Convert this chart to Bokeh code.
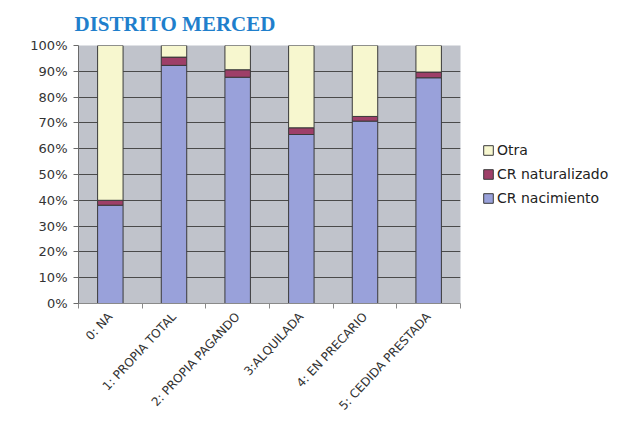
from bokeh.plotting import figure
from bokeh.models import (ColumnDataSource, FixedTicker, NumeralTickFormatter,
                          Legend, LegendItem)
from bokeh.embed import file_html
from bokeh.resources import INLINE

categories = ["0: NA", "1: PROPIA TOTAL", "2: PROPIA PAGANDO", "3:ALQUILADA",
              "4: EN PRECARIO", "5: CEDIDA PRESTADA"]
cr_nacimiento = [0.381, 0.923, 0.877, 0.655, 0.707, 0.875]
cr_naturalizado = [0.019, 0.032, 0.029, 0.026, 0.018, 0.022]
otra = [round(1 - a - b, 3) for a, b in zip(cr_nacimiento, cr_naturalizado)]
series = ["cr_nacimiento", "cr_naturalizado", "otra"]
series_labels = ["CR nacimiento", "CR naturalizado", "Otra"]
colors = ["#99A1DA", "#9E3F68", "#F7F7CF"]
y_ticks = [i / 10 for i in range(11)]

x_pos = [i + 0.5 for i in range(len(categories))]
source = ColumnDataSource(dict(x=x_pos, cr_nacimiento=cr_nacimiento,
                               cr_naturalizado=cr_naturalizado, otra=otra))

p = figure(frame_width=382, frame_height=258, output_backend="svg", toolbar_location=None,
           x_range=(0, len(categories)), y_range=(0, 1),
           min_border_left=78, min_border_right=150, min_border_top=45,
           min_border_bottom=110)

p.title.text = "DISTRITO MERCED"
p.title.text_font = "Liberation Serif"
p.title.text_font_size = "21px"
p.title.text_font_style = "bold"
p.title.text_color = "#1F7FCC"
p.title.offset = -4
p.title.standoff = 19

p.background_fill_color = "#C0C3CB"
p.border_fill_color = "white"
p.outline_line_color = None

renderers = p.vbar_stack(series, x="x", width=0.4, source=source, color=colors,
                         line_color="#3A3A3A", line_width=1)

legend = Legend(items=[LegendItem(label=lab, renderers=[r])
                       for lab, r in reversed(list(zip(series_labels, renderers)))],
                location=(22, 97))
legend.border_line_color = None
legend.background_fill_alpha = 0
legend.label_text_font = "DejaVu Sans"
legend.label_text_font_size = "14px"
legend.label_text_color = "#222222"
legend.glyph_width = 12
legend.glyph_height = 12
legend.spacing = 8
legend.label_standoff = 3
legend.padding = 0
legend.margin = 0
p.add_layout(legend, "right")

p.xgrid.visible = False
p.ygrid.ticker = FixedTicker(ticks=y_ticks)
p.ygrid.grid_line_color = "#4A4A4A"
p.ygrid.grid_line_width = 1

p.yaxis.ticker = FixedTicker(ticks=y_ticks)
p.yaxis.formatter = NumeralTickFormatter(format="0%")
p.yaxis.major_label_text_font = "DejaVu Sans"
p.yaxis.major_label_text_font_size = "13px"
p.yaxis.major_label_text_color = "#333333"
p.yaxis.major_label_standoff = 6
p.yaxis.axis_line_color = "#6A6A6A"
p.yaxis.major_tick_line_color = "#6A6A6A"
p.yaxis.major_tick_in = 0
p.yaxis.major_tick_out = 5
p.yaxis.minor_tick_line_color = None

p.xaxis.ticker = FixedTicker(ticks=x_pos, minor_ticks=list(range(len(categories) + 1)))
p.xaxis.major_label_overrides = {x: c for x, c in zip(x_pos, categories)}
p.xaxis.major_label_orientation = 0.82
p.xaxis.major_label_text_font = "DejaVu Sans"
p.xaxis.major_label_text_font_size = "12px"
p.xaxis.major_label_text_color = "#333333"
p.xaxis.axis_line_color = "#8A8A8A"
p.xaxis.major_tick_line_color = None
p.xaxis.minor_tick_line_color = "#8A8A8A"
p.xaxis.minor_tick_in = 0
p.xaxis.minor_tick_out = 5

open("out.html", "w").write(file_html(p, INLINE))
